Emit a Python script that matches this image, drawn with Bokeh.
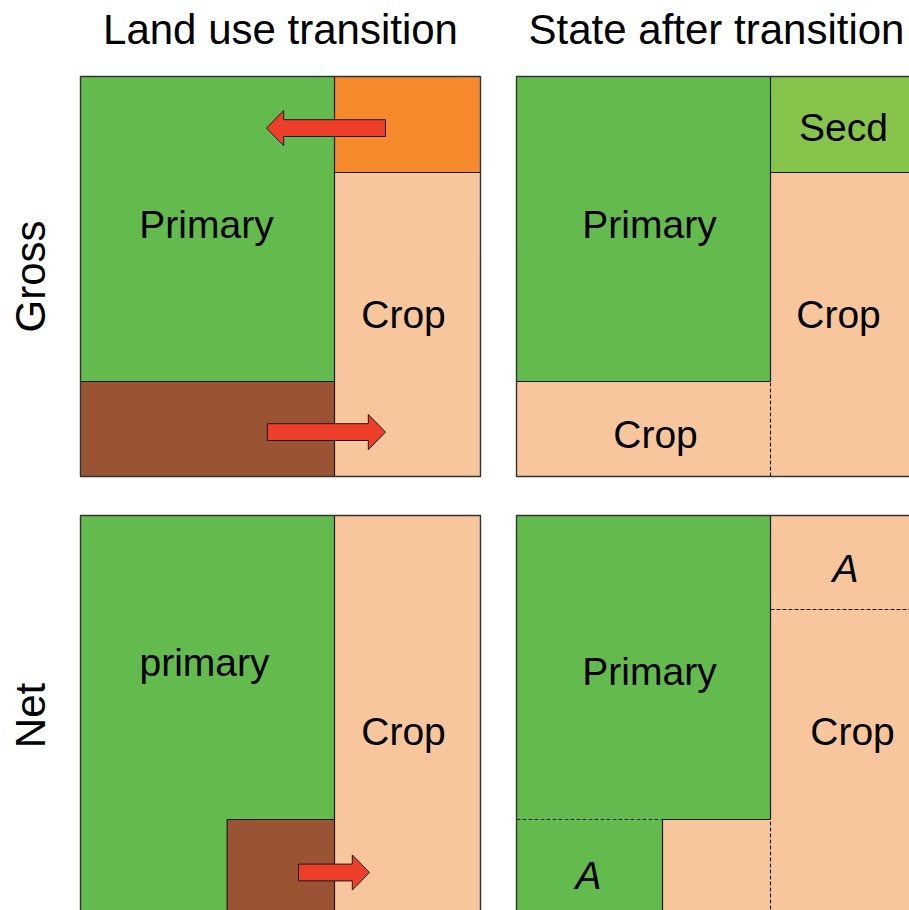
import numpy as np
from bokeh.plotting import figure
from bokeh.models import Range1d
from bokeh.core.properties import value
from bokeh.embed import file_html
from bokeh.resources import INLINE

# ---------------- data ----------------
PRIMARY = "#63BB4D"
SECD = "#87C44C"
CROP = "#F8C69C"
ABANDON = "#F48A2B"
PASTURE = "#9A5434"
ARROW = "#EE3F2A"

titles = ["Land use transition", "State after transition"]
row_labels = ["Gross", "Net"]

# panel origins (bottom-left) in diagram units; each panel is 1 x 1
panel_x0 = [0.0, 1.09, 0.0, 1.09]
panel_y0 = [1.0975, 1.0975, 0.0, 0.0]

# land-cover blocks (local panel coordinates)
rect_panel = [0, 0, 0, 0, 1, 1, 1, 1, 2, 2, 2, 3, 3, 3, 3]
rect_x0 = [0, 0, 0.635, 0.635, 0, 0, 0.635, 0.635, 0, 0.3667, 0.635, 0, 0, 0.365, 0.635]
rect_x1 = [0.635, 0.635, 1, 1, 0.635, 0.635, 1, 1, 0.635, 0.635, 1, 0.635, 0.365, 0.635, 1]
rect_y0 = [0.2375, 0, 0.76, 0, 0.2375, 0, 0.76, 0, 0, 0, 0, 0.24, 0, 0, 0]
rect_y1 = [1, 0.2375, 1, 0.76, 1, 0.2375, 1, 0.76, 1, 0.24, 1, 1, 0.24, 0.24, 1]
rect_color = [PRIMARY, PASTURE, ABANDON, CROP,
              PRIMARY, CROP, SECD, CROP,
              PRIMARY, PASTURE, CROP,
              PRIMARY, PRIMARY, CROP, CROP]

# boundary segments (local coordinates), dashed flag
seg_panel = [0, 0, 0, 1, 1, 1, 1, 2, 2, 2, 3, 3, 3, 3, 3, 3]
seg_x0 = [0.635, 0, 0.635, 0.635, 0.635, 0, 0.635, 0.635, 0.3667, 0.3667, 0.635, 0.635, 0, 0.365, 0.365, 0.635]
seg_y0 = [0, 0.2375, 0.76, 0.2375, 0, 0.2375, 0.76, 0, 0, 0.24, 0.24, 0, 0.24, 0.24, 0, 0.765]
seg_x1 = [0.635, 0.635, 1, 0.635, 0.635, 0.635, 1, 0.635, 0.3667, 0.635, 0.635, 0.635, 0.365, 0.635, 0.365, 1]
seg_y1 = [1, 0.2375, 0.76, 1, 0.2375, 0.2375, 0.76, 1, 0.24, 0.24, 1, 0.24, 0.24, 0.24, 0.24, 0.765]
seg_dashed = [False, False, False, False, True, False, False, False, False, False,
              False, True, True, False, False, True]

# arrows (local coordinates)
arrow_panel = [0, 0, 2]
arrow_tail = [0.7625, 0.467, 0.545]
arrow_tip = [0.465, 0.7625, 0.7225]
arrow_y = [0.871, 0.111, 0.1075]

# labels (local coordinates, baseline)
label_panel = [0, 0, 1, 1, 1, 1, 2, 2, 3, 3]
label_x = [0.315, 0.8075, 0.8175, 0.3325, 0.805, 0.3475, 0.31, 0.8075, 0.3325, 0.84]
label_y = [0.6, 0.373, 0.8425, 0.6, 0.373, 0.0733, 0.6025, 0.43, 0.58, 0.43]
label_text = ["Primary", "Crop", "Secd", "Primary", "Crop", "Crop", "primary", "Crop", "Primary", "Crop"]

italic_panel = [3, 3]
italic_x = [0.8225, 0.18]
italic_y = [0.8375, 0.069]
italic_text = ["A", "A"]

# ---------------- figure ----------------
W, H = 909, 910
PX = 400.0            # pixels per unit
OX, OY = 80.0, 915.0  # page position of unit origin
x_start = (0 - OX) / PX
x_end = (W - OX) / PX
y_top = OY / PX
y_bot = (OY - H) / PX

p = figure(width=W, height=H, output_backend="svg", toolbar_location=None,
           x_range=Range1d(x_start, x_end), y_range=Range1d(y_bot, y_top),
           x_axis_type=None, y_axis_type=None, min_border=0)
p.outline_line_color = None
p.grid.visible = False
p.background_fill_color = "white"

FONT = value("Liberation Sans")
LINE = "#1a1a1a"
LAB_FS, TIT_FS = 39, 42
BASE_SHIFT = 0.32  # em, renderer baseline correction


def gx(panel, x):
    return [panel_x0[k] + v for k, v in zip(panel, x)]


def gy(panel, y, shift=0.0):
    return [panel_y0[k] + v + shift for k, v in zip(panel, y)]


p.quad(left=gx(rect_panel, rect_x0), right=gx(rect_panel, rect_x1),
       bottom=gy(rect_panel, rect_y0), top=gy(rect_panel, rect_y1),
       fill_color=rect_color, line_color=None)

# boundary segments
solid = [i for i, d in enumerate(seg_dashed) if not d]
dashed = [i for i, d in enumerate(seg_dashed) if d]
for idx, dash in ((solid, "solid"), (dashed, "4 2")):
    sp = [seg_panel[i] for i in idx]
    p.segment(x0=gx(sp, [seg_x0[i] for i in idx]), y0=gy(sp, [seg_y0[i] for i in idx]),
              x1=gx(sp, [seg_x1[i] for i in idx]), y1=gy(sp, [seg_y1[i] for i in idx]),
              line_color=LINE, line_width=1.2 if dash == "solid" else 1.1, line_dash=dash)

# panel borders
p.quad(left=panel_x0, right=[v + 1 for v in panel_x0], bottom=panel_y0,
       top=[v + 1 for v in panel_y0], fill_color=None, line_color="#333333", line_width=1.4)

# arrows
BODY, HEAD, HEADLEN = 0.021, 0.044, 0.043
axs, ays = [], []
for k, t0, t1, yc in zip(arrow_panel, arrow_tail, arrow_tip, arrow_y):
    d = np.sign(t1 - t0)
    base = t1 - d * HEADLEN
    xs = [t0, base, base, t1, base, base, t0]
    ys = [yc - BODY, yc - BODY, yc - HEAD, yc, yc + HEAD, yc + BODY, yc + BODY]
    axs.append([panel_x0[k] + v for v in xs])
    ays.append([panel_y0[k] + v for v in ys])
p.patches(axs, ays, fill_color=ARROW, line_color="#1a1a1a", line_width=1.0)

lab_shift = BASE_SHIFT * LAB_FS / PX
tit_shift = BASE_SHIFT * TIT_FS / PX

# labels
p.text(x=gx(label_panel, label_x), y=gy(label_panel, label_y, lab_shift), text=label_text,
       text_font=FONT, text_font_size=f"{LAB_FS}px", text_align="center",
       text_baseline="alphabetic", text_color="black")
p.text(x=gx(italic_panel, italic_x), y=gy(italic_panel, italic_y, lab_shift), text=italic_text,
       text_font=FONT, text_font_size=f"{LAB_FS}px", text_font_style="italic",
       text_align="center", text_baseline="alphabetic", text_color="black")

# column titles
p.text(x=[panel_x0[0] + 0.5, panel_x0[1] + 0.5], y=[(OY - 42) / PX + tit_shift] * 2, text=titles,
       text_font=FONT, text_font_size=f"{TIT_FS}px", text_align="center",
       text_baseline="alphabetic", text_color="black")

# row labels
p.text(x=[(43 - OX) / PX - tit_shift] * 2, y=[panel_y0[0] + 0.5, panel_y0[2] + 0.5], text=row_labels,
       angle=np.pi / 2, text_font=FONT, text_font_size=f"{TIT_FS}px", text_align="center",
       text_baseline="alphabetic", text_color="black")

open("out.html", "w").write(file_html(p, INLINE))
